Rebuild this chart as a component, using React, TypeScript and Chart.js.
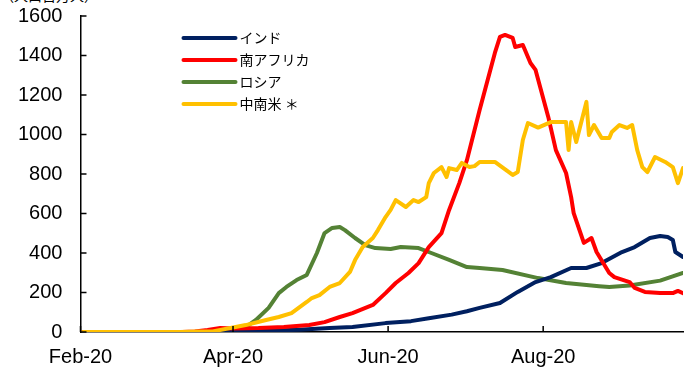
import React, { useEffect, useRef } from "react";
import { Chart, registerables } from "chart.js";

Chart.register(...registerables);

// x = days since 1 Feb 2020
const tickDays = [0, 60, 121, 182];
const tickLabels = ["Feb-20", "Apr-20", "Jun-20", "Aug-20"];
const yTicks = [0, 200, 400, 600, 800, 1000, 1200, 1400, 1600];

const seriesNames = ["インド", "南アフリカ", "ロシア", "中南米 ＊"];

const indiaDays = [1, 60, 70, 86, 98, 107, 120, 130, 137, 146, 152, 157, 165, 172, 179, 185, 193, 199, 205, 213, 218, 224, 228, 231, 233, 234, 237];
const indiaValues = [0, 0, 5, 12, 20, 25, 45, 55, 70, 88, 105, 122, 147, 203, 253, 278, 324, 324, 349, 405, 430, 476, 486, 481, 466, 405, 380];

const saDays = [1, 40, 45, 50, 55, 60, 70, 80, 90, 96, 102, 107, 115, 120, 124, 129, 133, 137, 142, 145, 149, 152, 157, 163, 165, 167, 170, 171, 174, 177, 179, 184, 187, 191, 193, 194, 198, 201, 203, 208, 210, 216, 218, 222, 228, 233, 235, 237];
const saValues = [0, 0, 3, 10, 20, 18, 20, 25, 35, 50, 76, 96, 137, 197, 248, 299, 349, 430, 501, 618, 754, 870, 1124, 1413, 1494, 1504, 1489, 1443, 1453, 1362, 1327, 1089, 921, 805, 683, 602, 451, 476, 405, 299, 278, 253, 223, 203, 197, 197, 208, 197];

const russiaDays = [1, 52, 60, 65, 69, 74, 78, 81, 85, 89, 93, 96, 99, 102, 104, 108, 112, 116, 122, 126, 133, 138, 145, 152, 157, 166, 180, 191, 204, 208, 216, 228, 237];
const russiaValues = [0, 0, 5, 25, 61, 122, 197, 228, 263, 289, 400, 501, 527, 532, 516, 476, 440, 425, 420, 430, 425, 400, 365, 329, 324, 314, 273, 248, 232, 228, 235, 260, 299];

const latamDays = [1, 39, 46, 52, 65, 73, 78, 83, 89, 91, 94, 98, 102, 106, 108, 111, 115, 117, 120, 122, 124, 128, 131, 133, 136, 137, 139, 142, 144, 145, 148, 150, 153, 155, 157, 163, 170, 172, 174, 176, 180, 185, 191, 192, 193, 195, 199, 200, 202, 205, 208, 209, 212, 215, 217, 219, 221, 223, 226, 230, 233, 235, 237];
const latamValues = [0, 0, 2, 3, 35, 61, 76, 96, 152, 172, 187, 228, 248, 304, 364, 430, 476, 516, 582, 618, 668, 633, 668, 658, 683, 754, 805, 835, 785, 830, 820, 856, 835, 840, 861, 861, 795, 810, 972, 1058, 1035, 1063, 1063, 921, 1063, 962, 1165, 997, 1048, 982, 982, 1013, 1048, 1033, 1048, 921, 835, 810, 886, 861, 835, 754, 830];

const colors = ["#002060", "#FF0000", "#548235", "#FFC000"];

const toPoints = (days: number[], vals: number[]) => days.map((d, i) => ({ x: d, y: vals[i] }));

const legendPlugin = {
  id: "customLegend",
  afterDraw(chart: any) {
    const ctx = chart.ctx;
    const { left, top } = chart.chartArea;
    ctx.save();
    seriesNames.forEach((name, i) => {
      const y = top + 22 + i * 22;
      ctx.strokeStyle = colors[i];
      ctx.lineWidth = 4;
      ctx.lineCap = "round";
      ctx.beginPath();
      ctx.moveTo(left + 103, y);
      ctx.lineTo(left + 155, y);
      ctx.stroke();
      ctx.fillStyle = "#000";
      ctx.font = '14px "Noto Sans CJK JP", sans-serif';
      ctx.textBaseline = "middle";
      ctx.textAlign = "left";
      ctx.fillText(name, left + 159, y);
    });
    ctx.restore();
  },
};

const innerTicksPlugin = {
  id: "innerTicks",
  afterDraw(chart: any) {
    const ctx = chart.ctx;
    const { left, bottom } = chart.chartArea;
    const xs = chart.scales.x;
    const ys = chart.scales.y;
    ctx.save();
    ctx.strokeStyle = "#000";
    ctx.lineWidth = 1.5;
    ctx.beginPath();
    yTicks.forEach((v) => {
      const p = ys.getPixelForValue(v);
      ctx.moveTo(left, p);
      ctx.lineTo(left + 6, p);
    });
    tickDays.forEach((d) => {
      const p = xs.getPixelForValue(d);
      ctx.moveTo(p, bottom);
      ctx.lineTo(p, bottom - 6);
    });
    ctx.stroke();
    ctx.restore();
  },
};

export default function App() {
  const ref = useRef<HTMLCanvasElement>(null);
  useEffect(() => {
    if (!ref.current) return;
    const mk = (i: number, days: number[], vals: number[], order: number) => ({
      label: seriesNames[i],
      data: toPoints(days, vals),
      borderColor: colors[i],
      backgroundColor: colors[i],
      borderWidth: 4,
      pointRadius: 0,
      tension: 0,
      borderJoinStyle: "round" as const,
      borderCapStyle: "round" as const,
      order,
    });
    const chart = new Chart(ref.current, {
      type: "line",
      data: {
        datasets: [
          mk(0, indiaDays, indiaValues, 2),
          mk(1, saDays, saValues, 1),
          mk(2, russiaDays, russiaValues, 3),
          mk(3, latamDays, latamValues, 0),
        ],
      },
      options: {
        animation: false,
        responsive: true,
        maintainAspectRatio: false,
        layout: { padding: { left: 18, right: 14, top: 16, bottom: 0 } },
        plugins: { legend: { display: false }, tooltip: { enabled: false } },
        scales: {
          x: {
            type: "linear",
            min: 0,
            max: 237,
            afterBuildTicks: (s: any) => {
              s.ticks = tickDays.map((v) => ({ value: v }));
            },
            ticks: {
              autoSkip: false,
              maxRotation: 0,
              padding: 0,
              color: "#000",
              font: { family: '"Liberation Sans", Arial, sans-serif', size: 20 },
              callback: (v: any) => {
                const i = tickDays.indexOf(Number(v));
                return i >= 0 ? tickLabels[i] : "";
              },
            },
            grid: { drawOnChartArea: false, drawTicks: true, tickLength: 13, tickColor: "rgba(0,0,0,0)" },
            border: { color: "#000", width: 1.5 },
          },
          y: {
            min: 0,
            max: 1600,
            afterBuildTicks: (s: any) => {
              s.ticks = yTicks.map((v) => ({ value: v }));
            },
            ticks: {
              padding: 0,
              color: "#000",
              font: { family: '"Liberation Sans", Arial, sans-serif', size: 20 },
              callback: (v: any) => String(v),
            },
            grid: { drawOnChartArea: false, drawTicks: true, tickLength: 18, tickColor: "rgba(0,0,0,0)" },
            border: { color: "#000", width: 1.5 },
          },
        },
      },
      plugins: [legendPlugin, innerTicksPlugin],
    });
    return () => chart.destroy();
  }, []);

  return (
    <div style={{ position: "absolute", left: 0, top: 0, width: 697, height: 367, overflow: "hidden", background: "#fff" }}>
      <div
        style={{
          position: "absolute",
          left: 0,
          top: -13,
          fontSize: 14,
          fontFamily: '"Noto Sans CJK JP", sans-serif',
          whiteSpace: "nowrap",
          color: "#000",
          lineHeight: "16px",
        }}
      >
        （人口百万人）
      </div>
      <div style={{ position: "absolute", left: 0, top: 0, width: 697, height: 369 }}>
        <canvas ref={ref} />
      </div>
    </div>
  );
}
